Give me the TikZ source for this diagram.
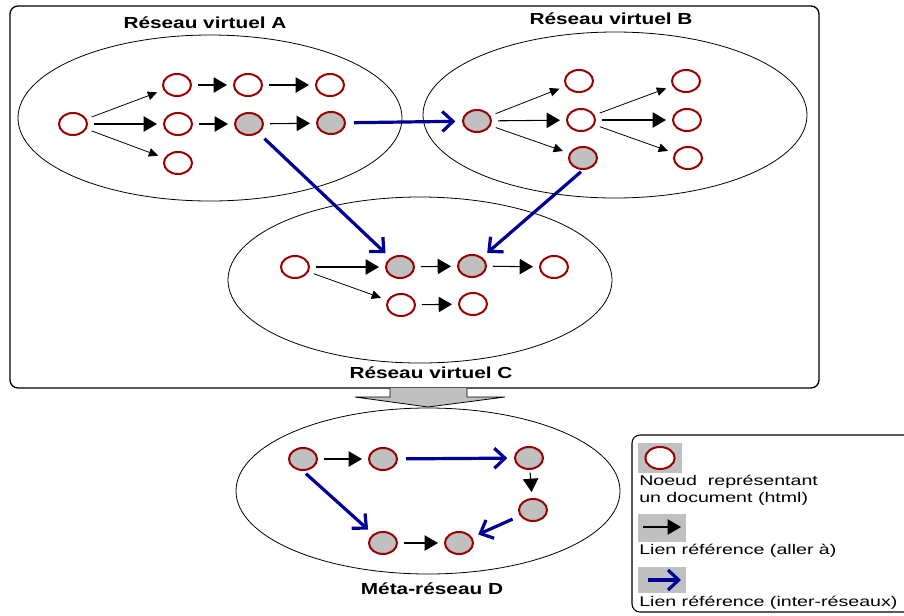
\documentclass[tikz,border=0pt]{standalone}
\usepackage{fontspec}
\setmainfont{Liberation Sans}
\newfontfamily\titlefont[FakeStretch=1.3]{Liberation Sans}
\newfontfamily\legendfont[FakeStretch=1.4]{Liberation Sans}
\usetikzlibrary{arrows.meta,shapes.geometric}
\definecolor{docred}{RGB}{153,0,0}
\definecolor{linkblue}{RGB}{0,0,150}
\definecolor{docgray}{RGB}{192,192,192}
\begin{document}
\begin{tikzpicture}[x=0.75pt,y=-0.75pt,
  doc/.style={ellipse, draw=docred, line width=1.5pt, fill=white,
    minimum width=21pt, minimum height=16.5pt, inner sep=0pt},
  visited/.style={doc, fill=docgray},
  net/.style={ellipse, draw, line width=0.6pt, inner sep=0pt,
    minimum width=288pt, minimum height=124.5pt},
  nettitle/.style={font=\titlefont\bfseries\fontsize{12}{14}\selectfont, inner sep=0pt},
  legendtext/.style={font=\legendfont\fontsize{10.5}{12.6}\selectfont, inner sep=0pt, anchor=west, align=left},
  swatch/.style={fill=docgray, draw=none, inner sep=0pt},
  bighead/.style={-{Triangle[length=10pt,width=11.5pt]}},
  blk/.style={bighead, line width=0.8pt, shorten <=4.5pt, shorten >=4.5pt},
  thin/.style={-{Triangle[length=7pt,width=6.5pt]}, line width=0.6pt,
    shorten <=4pt, shorten >=5pt},
  barb/.style={-{Straight Barb[length=8pt,width=15pt]}, draw=linkblue, line width=2.4pt},
  inter/.style={barb, shorten <=6pt, shorten >=5pt}]

\useasboundingbox (0,0) rectangle (904,615);

% frame around the three virtual networks
\draw[line width=1pt, rounded corners=6pt] (10,6) rectangle (819,388);

% network outlines
\node[net] (netA) at (210,118) {};
\node[net] (netB) at (615,115) {};
\node[net] (netC) at (420,280) {};
\node[net] (netD) at (428,491) {};

\node[nettitle] (tA) at (205,23) {Réseau virtuel A};
\node[nettitle] (tB) at (611,19) {Réseau virtuel B};
\node[nettitle] (tC) at (431,373) {Réseau virtuel C};
\node[nettitle] (tD) at (432,589) {Méta-réseau D};

% block arrow from the frame down to the meta-network
\draw[fill=docgray, line width=0.6pt] (390,388) -- (390,397) -- (355,397)
  -- (428,407) -- (505,397) -- (467,397) -- (467,388);

% network A
\node[doc] (a0) at (73,124) {};
\node[doc] (a1) at (177,85) {};
\node[doc] (a2) at (248,85) {};
\node[doc] (a3) at (330,85) {};
\node[doc] (a4) at (178,124) {};
\node[visited] (a5) at (249,124) {};
\node[visited] (a6) at (331,123) {};
\node[doc] (a7) at (178,163) {};

% network B
\node[visited] (b0) at (477,121) {};
\node[doc] (b1) at (579,81) {};
\node[doc] (b2) at (581,120) {};
\node[visited] (b3) at (583,158) {};
\node[doc] (b4) at (686,81) {};
\node[doc] (b5) at (687,120) {};
\node[doc] (b6) at (688,158) {};

% network C
\node[doc] (c0) at (295,267) {};
\node[visited] (c1) at (400,267) {};
\node[visited] (c2) at (472,266) {};
\node[doc] (c3) at (554,267) {};
\node[doc] (c4) at (401,305) {};
\node[doc] (c5) at (473,304) {};

% meta-network D
\node[visited] (d0) at (303,459) {};
\node[visited] (d1) at (383,459) {};
\node[visited] (d2) at (529,458) {};
\node[visited] (d3) at (533,510) {};
\node[visited] (d4) at (383,543) {};
\node[visited] (d5) at (459,543) {};

% links inside A
\draw[thin] (a0) -- (a1);
\draw[blk] (a0) -- (a4);
\draw[thin] (a0) -- (a7);
\draw[blk] (a1) -- (a2);
\draw[blk] (a2) -- (a3);
\draw[blk] (a4) -- (a5);
\draw[blk] (a5) -- (a6);

% links inside B
\draw[thin] (b0) -- (b1);
\draw[blk] (b0) -- (b2);
\draw[thin] (b0) -- (b3);
\draw[thin] (b2) -- (b4);
\draw[blk] (b2) -- (b5);
\draw[thin] (b2) -- (b6);

% links inside C
\draw[blk] (c0) -- (c1);
\draw[blk] (c1) -- (c2);
\draw[blk] (c2) -- (c3);
\draw[thin] (c0) -- (c4);
\draw[blk] (c4) -- (c5);

% links between networks
\draw[inter] (a6) -- (b0);
\draw[inter] (a5) -- (c1);
\draw[inter, shorten <=2pt] (b3.south) -- (c2);

% links inside D
\draw[blk] (d0) -- (d1);
\draw[inter] (d1) -- (d2);
\draw[blk, shorten <=2pt] (d2) -- (d3);
\draw[inter] (d3) -- (d5);
\draw[inter, shorten <=3pt] (d0.south) -- (d4);
\draw[blk] (d4) -- (d5);

% legend
\begin{scope}
  \clip (0,0) rectangle (904,615);
  \draw[line width=0.8pt, rounded corners=6pt] (632,435) rectangle (930,612);
\end{scope}
\node[swatch, minimum width=33pt, minimum height=22.5pt] (s1) at (660,458) {};
\node[doc, minimum width=22pt, minimum height=16.5pt] (s1doc) at (s1) {};
\node[legendtext] (l1) at (639,490) {Noeud\ \ représentant\\un document (html)};

\node[swatch, minimum width=36pt, minimum height=21pt] (s2) at (662,528) {};
\coordinate (s2a) at (643,527);
\coordinate (s2b) at (681,527);
\draw[bighead, line width=0.8pt] (s2a) -- (s2b);
\node[legendtext] (l2) at (639,551) {Lien référence (aller à)};

\node[swatch, minimum width=36pt, minimum height=19.5pt] (s3) at (662,580) {};
\coordinate (s3a) at (648,580);
\coordinate (s3b) at (681,580);
\draw[barb] (s3a) -- (s3b);
\node[legendtext] (l3) at (639,603) {Lien référence (inter-réseaux)};

\end{tikzpicture}
\end{document}
